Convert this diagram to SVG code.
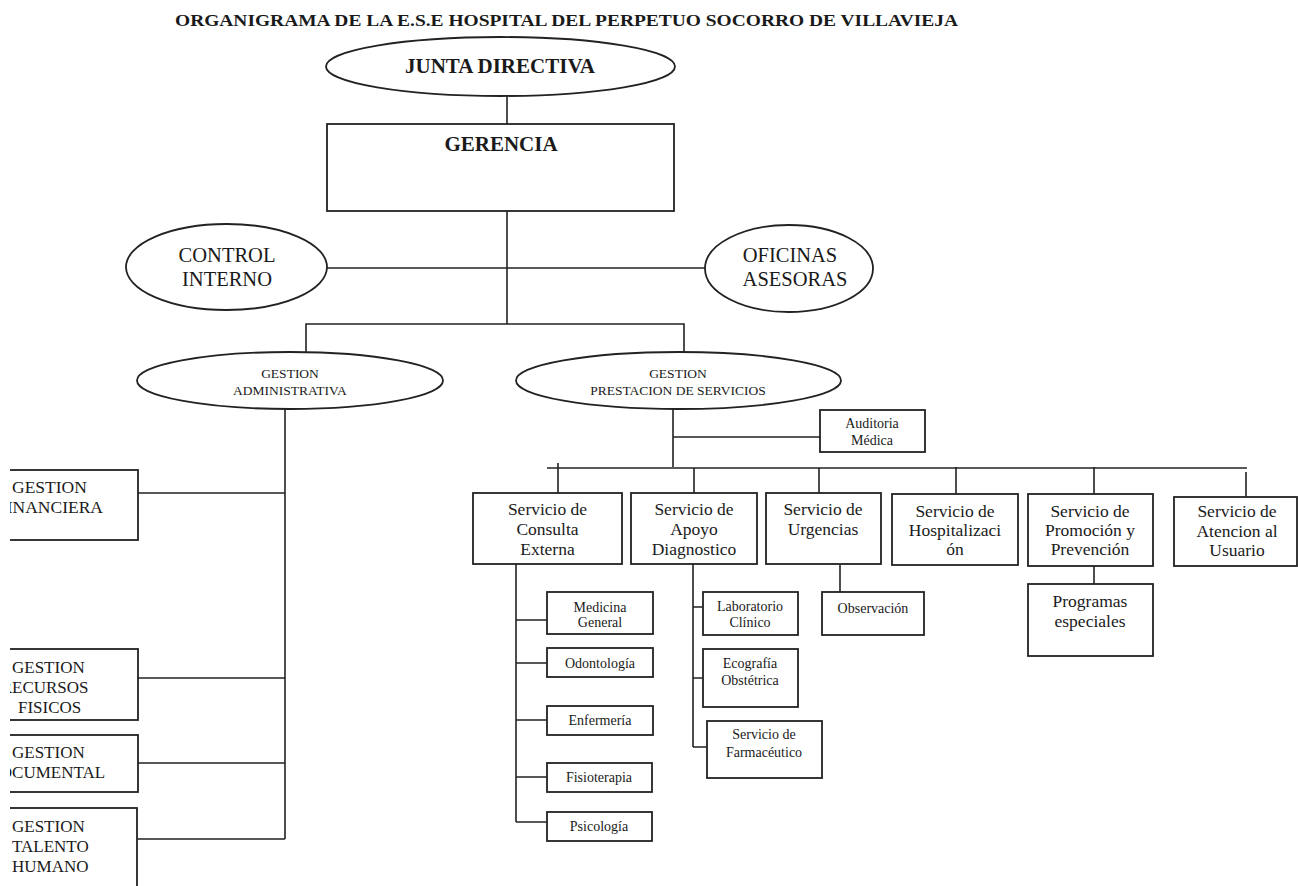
<svg xmlns="http://www.w3.org/2000/svg" width="1298" height="886" viewBox="0 0 1298 886">
<style>
  .bx{fill:#fff;stroke:#222;stroke-width:1.8}
  .ln{fill:none;stroke:#222;stroke-width:1.6}
  text{font-family:"Liberation Serif","Times New Roman",serif;fill:#1a1a1a}
  .c{text-anchor:middle}
  .t17{font-size:17.5px}
  .t14{font-size:14px}
  .t20{font-size:20.5px}
  .ts{font-size:13.5px}
  .b{font-weight:bold}
</style>
<defs>
  <clipPath id="leftclip"><rect x="10" y="0" width="400" height="886"/></clipPath>
</defs>
<rect width="1298" height="886" fill="#fff"/>
<text id="title" x="175" y="26" class="b" font-size="17" textLength="783" lengthAdjust="spacingAndGlyphs">ORGANIGRAMA DE LA E.S.E HOSPITAL DEL PERPETUO SOCORRO DE VILLAVIEJA</text>

<g id="connectors">
  <path class="ln" d="M507 96V124"/>
  <path class="ln" d="M507 211V324"/>
  <path class="ln" d="M327 268H705"/>
  <path class="ln" d="M306 352V324H684V352"/>
  <path class="ln" d="M285 409V839"/>
  <path class="ln" d="M138 493H285M138 678H285M138 763H285M137 839H285"/>
  <path class="ln" d="M673 409V467M673 437H820"/>
  <path class="ln" d="M547 468H1247"/>
  <path class="ln" d="M558 463V493M694 468V493M819 468V493M956 467V494M1094 467V494M1246 472V500"/>
  <path class="ln" d="M516 564V822M516 620H547M516 663H547M516 720H547M516 777H547M516 822H547"/>
  <path class="ln" d="M693 564V747M693 607H703M693 678H703M693 747H707"/>
  <path class="ln" d="M840 565V592"/>
  <path class="ln" d="M1094 558V584"/>
</g>

<g id="junta">
  <ellipse class="bx" cx="500.5" cy="66.5" rx="174.5" ry="29.5"/>
  <text class="c b" x="500" y="73" font-size="21">JUNTA DIRECTIVA</text>
</g>
<g id="gerencia">
  <rect class="bx" x="327" y="124" width="347" height="87"/>
  <text class="c b" x="501" y="151" font-size="21">GERENCIA</text>
</g>
<g id="control-interno">
  <ellipse class="bx" cx="226.5" cy="267" rx="100.5" ry="43"/>
  <text class="c t20" x="227" y="262">CONTROL</text>
  <text class="c t20" x="227" y="286">INTERNO</text>
</g>
<g id="oficinas-asesoras">
  <ellipse class="bx" cx="789" cy="268.5" rx="84" ry="43.5"/>
  <text class="c t20" x="790" y="262">OFICINAS</text>
  <text class="c t20" x="795" y="286">ASESORAS</text>
</g>
<g id="gestion-administrativa">
  <ellipse class="bx" cx="290" cy="380.5" rx="153" ry="28.5"/>
  <text class="c ts" x="290" y="378">GESTION</text>
  <text class="c ts" x="290" y="395">ADMINISTRATIVA</text>
</g>
<g id="gestion-prestacion">
  <ellipse class="bx" cx="678.5" cy="380.5" rx="162.5" ry="28.5"/>
  <text class="c ts" x="678" y="378">GESTION</text>
  <text class="c ts" x="678" y="395">PRESTACION DE SERVICIOS</text>
</g>

<g clip-path="url(#leftclip)">
  <g id="gestion-financiera">
    <rect class="bx" x="-5" y="470" width="143" height="70"/>
    <text class="t17" x="12" y="493" font-size="17">GESTION</text>
    <text class="t17" x="-3" y="513" font-size="17">FINANCIERA</text>
  </g>
  <g id="gestion-recursos-fisicos">
    <rect class="bx" x="-5" y="649" width="143" height="71"/>
    <text x="12" y="673" font-size="17">GESTION</text>
    <text x="0.7" y="693" font-size="17">RECURSOS</text>
    <text x="18" y="713" font-size="17">FISICOS</text>
  </g>
  <g id="gestion-documental">
    <rect class="bx" x="-5" y="735" width="143" height="57"/>
    <text x="12" y="758" font-size="17">GESTION</text>
    <text x="-12.5" y="778" font-size="17">DOCUMENTAL</text>
  </g>
  <g id="gestion-talento-humano">
    <rect class="bx" x="-5" y="808" width="142" height="100"/>
    <text x="12" y="832" font-size="17">GESTION</text>
    <text x="12" y="852" font-size="17">TALENTO</text>
    <text x="12" y="872" font-size="17">HUMANO</text>
  </g>
</g>

<g id="auditoria-medica">
  <rect class="bx" x="820" y="410" width="105" height="42"/>
  <text class="c t14" x="872" y="428">Auditoria</text>
  <text class="c t14" x="872" y="445">Médica</text>
</g>

<g id="consulta-externa">
  <rect class="bx" x="473" y="493" width="149" height="71"/>
  <text class="c t17" x="547.5" y="515">Servicio de</text>
  <text class="c t17" x="547.5" y="535">Consulta</text>
  <text class="c t17" x="547.5" y="555">Externa</text>
</g>
<g id="apoyo-diagnostico">
  <rect class="bx" x="631" y="493" width="126" height="71"/>
  <text class="c t17" x="694" y="515">Servicio de</text>
  <text class="c t17" x="694" y="535">Apoyo</text>
  <text class="c t17" x="694" y="555">Diagnostico</text>
</g>
<g id="urgencias">
  <rect class="bx" x="766" y="493" width="115" height="71"/>
  <text class="c t17" x="823" y="515">Servicio de</text>
  <text class="c t17" x="823" y="535">Urgencias</text>
</g>
<g id="hospitalizacion">
  <rect class="bx" x="892" y="494" width="126" height="71"/>
  <text class="c t17" x="955" y="517">Servicio de</text>
  <text class="c t17" x="955" y="536">Hospitalizaci</text>
  <text class="c t17" x="955" y="555">ón</text>
</g>
<g id="promocion-prevencion">
  <rect class="bx" x="1028" y="494" width="125" height="72"/>
  <text class="c t17" x="1090" y="517">Servicio de</text>
  <text class="c t17" x="1090" y="536">Promoción y</text>
  <text class="c t17" x="1090" y="555">Prevención</text>
</g>
<g id="atencion-usuario">
  <rect class="bx" x="1174" y="497" width="123" height="69"/>
  <text class="c t17" x="1237" y="517">Servicio de</text>
  <text class="c t17" x="1237" y="537">Atencion al</text>
  <text class="c t17" x="1237" y="556">Usuario</text>
</g>

<g id="medicina-general">
  <rect class="bx" x="547" y="592" width="106" height="42"/>
  <text class="c t14" x="600" y="612">Medicina</text>
  <text class="c t14" x="600" y="627">General</text>
</g>
<g id="odontologia">
  <rect class="bx" x="547" y="648" width="106" height="29"/>
  <text class="c t14" x="600" y="668">Odontología</text>
</g>
<g id="enfermeria">
  <rect class="bx" x="547" y="706" width="106" height="29"/>
  <text class="c t14" x="600" y="725">Enfermería</text>
</g>
<g id="fisioterapia">
  <rect class="bx" x="547" y="763" width="105" height="29"/>
  <text class="c t14" x="599" y="782">Fisioterapia</text>
</g>
<g id="psicologia">
  <rect class="bx" x="547" y="812" width="105" height="29"/>
  <text class="c t14" x="599" y="831">Psicología</text>
</g>

<g id="laboratorio-clinico">
  <rect class="bx" x="703" y="592" width="95" height="43"/>
  <text class="c t14" x="750" y="611">Laboratorio</text>
  <text class="c t14" x="750" y="627">Clínico</text>
</g>
<g id="ecografia-obstetrica">
  <rect class="bx" x="703" y="649" width="95" height="58"/>
  <text class="c t14" x="750" y="668">Ecografía</text>
  <text class="c t14" x="750" y="685">Obstétrica</text>
</g>
<g id="servicio-farmaceutico">
  <rect class="bx" x="707" y="721" width="115" height="57"/>
  <text class="c t14" x="764" y="739">Servicio de</text>
  <text class="c t14" x="764" y="757">Farmacéutico</text>
</g>

<g id="observacion">
  <rect class="bx" x="822" y="592" width="102" height="43"/>
  <text class="c t14" x="873" y="613">Observación</text>
</g>

<g id="programas-especiales">
  <rect class="bx" x="1028" y="584" width="125" height="72"/>
  <text class="c t17" x="1090" y="607">Programas</text>
  <text class="c t17" x="1090" y="627">especiales</text>
</g>
</svg>
